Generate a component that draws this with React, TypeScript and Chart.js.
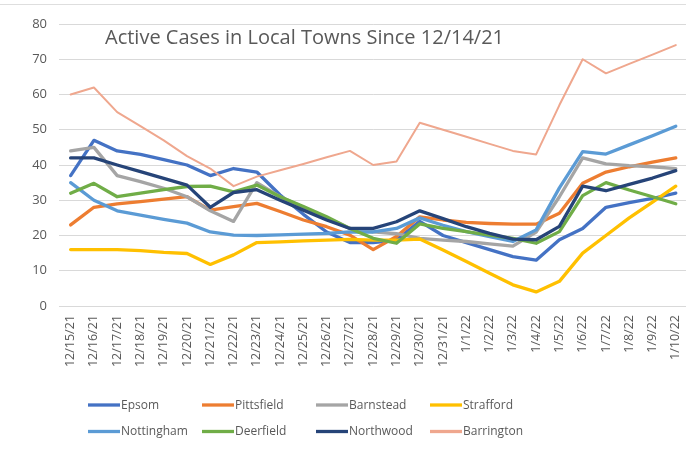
import React, { useEffect, useRef } from "react";
import { Chart, registerables } from "chart.js";

Chart.register(...registerables);

const labels = [
  "12/15/21", "12/16/21", "12/17/21", "12/18/21", "12/19/21", "12/20/21", "12/21/21",
  "12/22/21", "12/23/21", "12/24/21", "12/25/21", "12/26/21", "12/27/21", "12/28/21",
  "12/29/21", "12/30/21", "12/31/21", "1/1/22", "1/2/22", "1/3/22", "1/4/22",
  "1/5/22", "1/6/22", "1/7/22", "1/8/22", "1/9/22", "1/10/22",
];

const epsom = [37, 47, 44, 43, 41.5, 40, 37, 39, 38, 31.5, 26, 21, 18, 18, 18.7, 24, 20, 18, 16, 14, 13, 18.8, 22, 28, 29.3, 30.5, 32];
const pittsfield = [23, 28, 29, 29.6, 30.3, 31, 27.2, 28.2, 29.1, 26.8, 24.4, 22.5, 20.1, 16, 19.7, 25.3, 24.4, 23.7, 23.4, 23.2, 23.2, 26.3, 34.8, 38, 39.5, 40.8, 42];
const barnstead = [44, 45, 37, 35.3, 33.4, 31, 27, 24, 35, 31, 28, 25, 22, 21, 20.5, 19.2, 18.7, 18.3, 17.6, 17, 21, 31, 42, 40.3, 39.8, 39.5, 39];
const strafford = [16, 16, 16, 15.7, 15.2, 14.9, 11.8, 14.5, 18, 18.2, 18.5, 18.7, 18.9, 18.7, 18.7, 19, 15.9, 12.6, 9.3, 6, 4, 7, 15, 20, 25, 29.5, 34];
const nottingham = [35, 30, 27, 25.8, 24.6, 23.5, 21, 20.1, 20, 20.2, 20.4, 20.6, 21, 21, 22, 25, 22.9, 21.1, 19.7, 18.3, 21.6, 33.5, 43.8, 43.1, 45.7, 48.3, 51];
const deerfield = [32, 34.8, 31, 32, 33, 33.9, 34, 32.4, 34.3, 31, 28.2, 25.3, 22, 19.2, 17.8, 23.3, 22, 21.1, 20.1, 19.2, 17.8, 21.1, 31.3, 35, 32.9, 31, 29];
const northwood = [42, 42, 40, 38.1, 36.2, 34.3, 28, 32.2, 33, 30, 27.2, 24.4, 22, 22, 23.9, 27, 24.8, 22.5, 20.6, 19, 18.8, 22.6, 34, 32.7, 34.5, 36.3, 38.4];
const barrington = [60, 62, 55, 51, 47, 42.5, 39, 34, 36.7, 38.5, 40.3, 42.2, 44, 40, 41, 52, 50, 48, 46, 44, 43, 57, 70, 66, 68.7, 71.3, 74];

const seriesNames = ["Epsom", "Pittsfield", "Barnstead", "Strafford", "Nottingham", "Deerfield", "Northwood", "Barrington"];
const seriesValues = [epsom, pittsfield, barnstead, strafford, nottingham, deerfield, northwood, barrington];
const seriesColors = ["#4472C4", "#ED7D31", "#A5A5A5", "#FFC000", "#5B9BD5", "#70AD47", "#264478", "#EFA78E"];
const seriesWidths = [3.3, 3.3, 3.3, 3.3, 3.3, 3.3, 3.3, 2];

const titleText = "Active Cases in Local Towns Since 12/14/21";
const TEXT = "#595959";
const FONT = "'Open Sans', sans-serif";

const extrasPlugin = {
  id: "extras",
  beforeDraw(chart: any) {
    const ctx = chart.ctx;
    ctx.save();
    ctx.strokeStyle = "#dedede";
    ctx.lineWidth = 1;
    ctx.beginPath();
    ctx.moveTo(0, 4.5);
    ctx.lineTo(chart.width, 4.5);
    ctx.stroke();
    ctx.restore();
  },
  afterDraw(chart: any) {
    const ctx = chart.ctx;
    const area = chart.chartArea;
    ctx.save();
    // title inside plot
    ctx.fillStyle = TEXT;
    ctx.font = `20px ${FONT}`;
    ctx.textBaseline = "alphabetic";
    ctx.textAlign = "left";
    ctx.fillText(titleText, area.left + 46, area.top + 19.5);
    // legend
    ctx.font = `12px ${FONT}`;
    ctx.textBaseline = "middle";
    chart.data.datasets.forEach((ds: any, i: number) => {
      const col = i % 4;
      const row = Math.floor(i / 4);
      const x = 88 + col * 114;
      const y = 405 + row * 26.5;
      ctx.strokeStyle = ds.borderColor;
      ctx.lineWidth = 3.3;
      ctx.beginPath();
      ctx.moveTo(x, y);
      ctx.lineTo(x + 32, y);
      ctx.stroke();
      ctx.fillStyle = TEXT;
      ctx.fillText(ds.label, x + 33, y + 0.5);
    });
    ctx.restore();
  },
};

export default function App() {
  const ref = useRef<HTMLCanvasElement | null>(null);
  useEffect(() => {
    if (!ref.current) return;
    const chart = new Chart(ref.current, {
      type: "line",
      data: {
        labels,
        datasets: seriesNames.map((name, i) => ({
          label: name,
          data: seriesValues[i],
          borderColor: seriesColors[i],
          backgroundColor: seriesColors[i],
          borderWidth: seriesWidths[i],
          pointRadius: 0,
          tension: 0,
          fill: false,
          order: -i,
          borderJoinStyle: "round" as const,
          borderCapStyle: "round" as const,
        })),
      },
      options: {
        animation: false,
        responsive: false,
        maintainAspectRatio: false,
        layout: { padding: { left: 0, right: 11.7, top: 24, bottom: 60 } },
        plugins: {
          legend: { display: false },
          title: { display: false },
          tooltip: { enabled: false },
        },
        scales: {
          x: {
            offset: true,
            grid: { display: false, drawTicks: false },
            border: { display: false },
            ticks: {
              autoSkip: false,
              maxRotation: 90,
              minRotation: 90,
              padding: 9,
              color: TEXT,
              font: { family: FONT, size: 12.5 },
            },
            afterFit(scale: any) {
              scale.height = 96;
            },
          },
          y: {
            min: 0,
            max: 80,
            ticks: {
              stepSize: 10,
              padding: 12,
              color: TEXT,
              font: { family: FONT, size: 13 },
            },
            grid: { color: "#d9d9d9", lineWidth: 1, drawTicks: false },
            border: { display: false },
            afterFit(scale: any) {
              scale.width = 59;
            },
          },
        },
      },
      plugins: [extrasPlugin],
    });
    return () => chart.destroy();
  }, []);
  return (
    <div style={{ position: "fixed", left: 0, top: 0, width: 700, height: 462, background: "#fff" }}>
      <canvas ref={ref} width={700} height={462} style={{ width: 700, height: 462, display: "block" }} />
    </div>
  );
}
